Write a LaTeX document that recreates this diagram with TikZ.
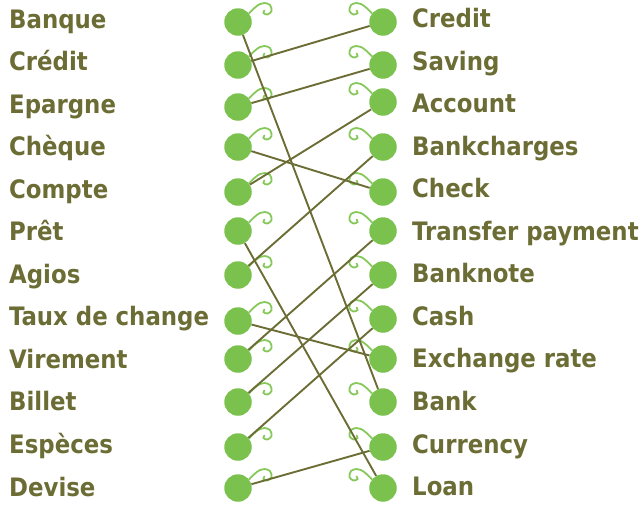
\documentclass[tikz,border=0pt]{standalone}
\usepackage{fontspec}
\setsansfont{DejaVu Sans Condensed}
\definecolor{olive}{HTML}{6B6D35}
\definecolor{pea}{HTML}{7BC14D}
\definecolor{curl}{HTML}{86C85A}
\tikzset{
  lab/.style={font=\sffamily\bfseries\fontsize{25.4}{27}\selectfont, text=olive, inner sep=0pt, anchor=base west},
  peanode/.style={circle, fill=pea, minimum size=27.5pt, inner sep=0pt},
  link/.style={draw=olive, line width=1.9pt},
  curlR/.pic={\draw[curl, line width=1.8pt, line cap=round] plot[smooth, tension=0.6] coordinates {(11,-8.5) (17,-14.5) (22,-18) (26.5,-19) (32,-17) (33.5,-11) (29.5,-7.5) (25.5,-9) (26.5,-11.5)};},
  curlL/.pic={\draw[curl, line width=1.8pt, line cap=round] plot[smooth, tension=0.6] coordinates {(-11,-8.5) (-17,-14.5) (-22,-18) (-26.5,-19) (-32,-17) (-33.5,-11) (-29.5,-7.5) (-25.5,-9) (-26.5,-11.5)};}
}
\begin{document}
\begin{tikzpicture}[x=1pt, y=-1pt]
\useasboundingbox (0,0) rectangle (644,504);
% left labels
\foreach \t [count=\i] in {Banque,Crédit,Epargne,Chèque,Compte,Prêt,Agios,Taux de change,Virement,Billet,Espèces,Devise}
  \node[lab] (tl\i) at (9,{28+42.55*(\i-1)}) {\t};
\foreach \t [count=\i] in {Credit,Saving,Account,Bankcharges,Check,Transfer payment,Banknote,Cash,Exchange rate,Bank,Currency,Loan}
  \node[lab] (tr\i) at (412,{27.5+42.55*(\i-1)}) {\t};
% circles
\foreach \y [count=\i] in {22,65,107,147,192,231,275,321,359,402,447,488}{
  \node[peanode] (L\i) at (238,\y) {};
  \pic at (L\i) {curlR};
}
\foreach \y [count=\i] in {22,65,102,147,192,231,275,319,359,402,447,488}{
  \node[peanode] (R\i) at (383,\y) {};
  \pic at (R\i) {curlL};
}
% connectors
\draw[link] (L1) -- (R10);
\draw[link] (L2) -- (R1);
\draw[link] (L3) -- (R2);
\draw[link] (L4) -- (R5);
\draw[link] (L5) -- (R3);
\draw[link] (L6) -- (R12);
\draw[link] (L7) -- (R4);
\draw[link] (L8) -- (R9);
\draw[link] (L9) -- (R6);
\draw[link] (L10) -- (R7);
\draw[link] (L11) -- (R8);
\draw[link] (L12) -- (R11);
\end{tikzpicture}
\end{document}
